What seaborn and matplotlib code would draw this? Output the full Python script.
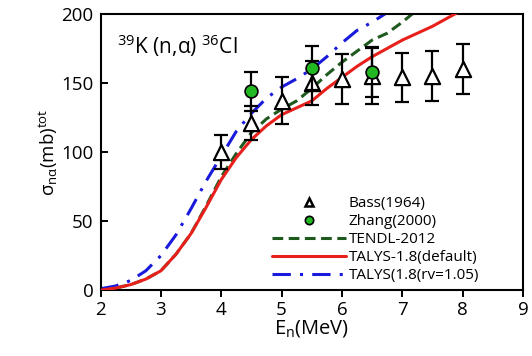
import numpy as np
import pandas as pd
import matplotlib
matplotlib.use("Agg")
import matplotlib.pyplot as plt
import seaborn as sns
from matplotlib.lines import Line2D

# ---- data ----
bass_x = [4.0, 4.5, 5.0, 5.5, 6.0, 6.5, 7.0, 7.5, 8.0]
bass_y = [100, 121, 137, 150, 153, 155, 154, 155, 160]
bass_err = [12, 12, 17, 16, 18, 20, 18, 18, 18]

zhang_x = [4.5, 5.5, 6.5]
zhang_y = [144, 161, 158]
zhang_err = [14, 16, 18]

red_x = [2.0, 2.25, 2.5, 2.75, 3.0, 3.25, 3.5, 3.75, 4.0, 4.25, 4.5, 4.75, 5.0,
         5.25, 5.5, 5.75, 6.0, 6.25, 6.5, 6.75, 7.0, 7.25, 7.5, 7.75, 8.0]
red_y = [0, 1.5, 4, 8, 14, 26, 41, 60, 80, 96, 109, 119, 127,
         132, 137, 146, 154, 162, 169, 175, 181, 186, 191, 197, 203]

blue_x = [2.0, 2.25, 2.5, 2.75, 3.0, 3.25, 3.5, 3.75, 4.0, 4.25, 4.5, 4.75, 5.0,
          5.25, 5.5, 5.75, 6.0, 6.25, 6.5, 6.75]
blue_y = [1, 3, 7, 14, 25, 40, 59, 79, 97, 115, 128, 139, 147,
          153, 160, 169, 179, 188, 194, 201]

green_x = [2.0, 2.25, 2.5, 2.75, 3.0, 3.25, 3.5, 3.75, 4.0, 4.25, 4.5, 4.75, 5.0,
           5.25, 5.5, 5.75, 6.0, 6.25, 6.5, 6.75, 7.0, 7.25]
green_y = [0, 1.5, 4, 8, 14, 26, 41, 61, 82, 99, 114, 124, 131,
           137, 146, 156, 165, 173, 181, 186, 194, 203]

xticks = [2, 3, 4, 5, 6, 7, 8, 9]
yticks = [0, 50, 100, 150, 200]

sns.set_theme(style="white")
plt.rcParams['font.family'] = ['Open Sans', 'DejaVu Sans']

fig = plt.figure(figsize=(5.32, 3.56), dpi=100)
ax = fig.add_axes([0.189, 0.185, 0.794, 0.776])

df_t = pd.DataFrame({'x': green_x, 'y': green_y})
df_r = pd.DataFrame({'x': red_x, 'y': red_y})
df_b = pd.DataFrame({'x': blue_x, 'y': blue_y})

sns.lineplot(data=df_t, x='x', y='y', ax=ax, color='#1e5a1e', lw=2.2,
             linestyle=(0, (3.5, 1.8)), zorder=2)
sns.lineplot(data=df_r, x='x', y='y', ax=ax, color='#e8201c', lw=2.2, zorder=3)
sns.lineplot(data=df_b, x='x', y='y', ax=ax, color='#1a1adc', lw=2.2,
             linestyle=(0, (6, 3, 1, 3)), zorder=2)

ax.errorbar(bass_x, bass_y, yerr=bass_err, fmt='none', ecolor='black',
            elinewidth=1.6, capsize=5, capthick=1.6, zorder=4)
sns.scatterplot(x=bass_x, y=bass_y, ax=ax, marker='^', s=120,
                facecolor='white', edgecolor='black', linewidth=1.6, zorder=5)
ax.errorbar(zhang_x, zhang_y, yerr=zhang_err, fmt='none', ecolor='black',
            elinewidth=1.6, capsize=5, capthick=1.6, zorder=6)
sns.scatterplot(x=zhang_x, y=zhang_y, ax=ax, marker='o', s=85,
                facecolor='#22b822', edgecolor='black', linewidth=1.2, zorder=7)

ax.set_xlim(2, 9)
ax.set_ylim(0, 200)
ax.set_xticks(xticks)
ax.set_yticks(yticks)
ax.tick_params(axis='x', direction='out', length=5, width=1.4, labelsize=13.5,
               bottom=True, colors='black', pad=3)
ax.tick_params(axis='y', direction='in', length=5, width=1.4, labelsize=13.5,
               left=True, colors='black', pad=5)
for sp in ax.spines.values():
    sp.set_color('black')
    sp.set_linewidth(1.5)

ax.set_xlabel(r'E$_\mathregular{n}$(MeV)', fontsize=14.5, labelpad=-1, color='black')
ax.set_ylabel(r'$\mathregular{\sigma_{n\alpha}}$(mb)$^\mathregular{tot}$',
              fontsize=13.5, labelpad=1, color='black')

ax.text(0.04, 0.885, r'$^\mathregular{39}$K (n,α) $^\mathregular{36}$Cl',
        transform=ax.transAxes, fontsize=15, va='center', ha='left', color='black')

handles = [
    Line2D([], [], linestyle='none', marker='^', markersize=6, markerfacecolor='white',
           markeredgecolor='black', markeredgewidth=1.8),
    Line2D([], [], linestyle='none', marker='o', markersize=6, markerfacecolor='#22b822',
           markeredgecolor='black', markeredgewidth=1.2),
    Line2D([], [], color='#1e5a1e', lw=2.2, linestyle=(0, (3.5, 1.8))),
    Line2D([], [], color='#e8201c', lw=2.2),
    Line2D([], [], color='#1a1adc', lw=2.2, linestyle=(0, (6, 3, 1, 3))),
]
labels = ['Bass(1964)', 'Zhang(2000)', 'TENDL-2012', 'TALYS-1.8(default)', 'TALYS(1.8(rv=1.05)']
leg = ax.legend(handles, labels, loc='lower left', bbox_to_anchor=(0.405, 0.025),
                frameon=False, fontsize=11, handlelength=4.9, handletextpad=0.15,
                labelspacing=0.2, borderpad=0, borderaxespad=0)
for t in leg.get_texts():
    t.set_color('black')

fig.savefig('out.png', dpi=100)
